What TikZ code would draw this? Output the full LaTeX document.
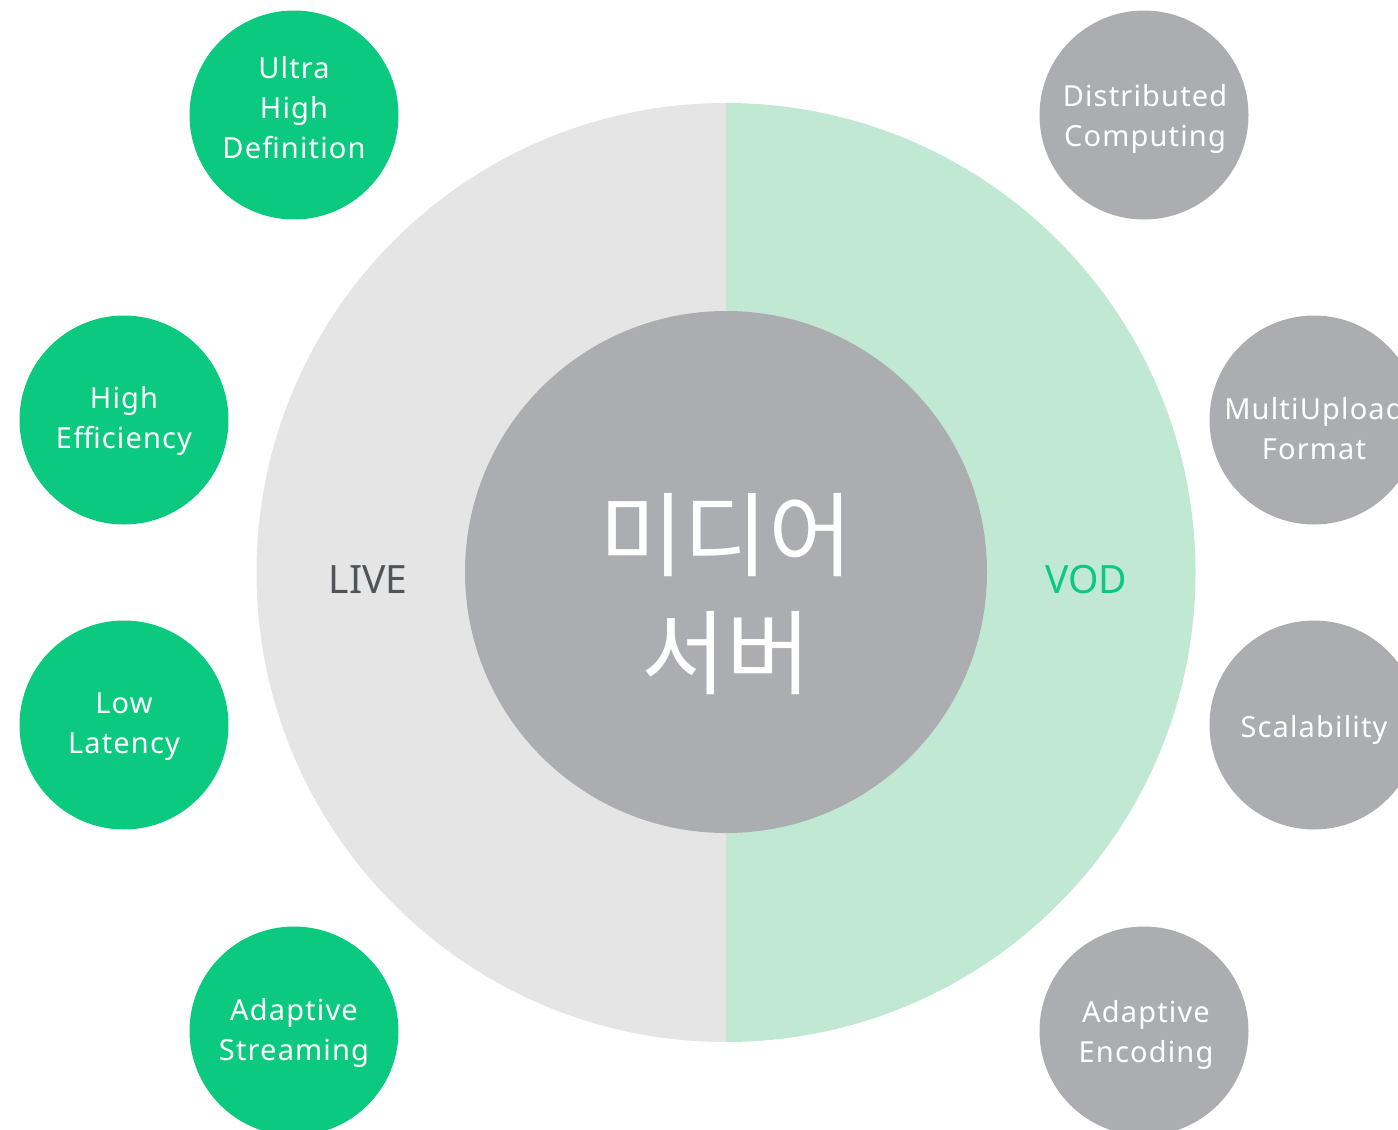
\documentclass[tikz,border=0pt]{standalone}
\usepackage{fontspec}
\setmainfont{Noto Sans}[LetterSpace=4]
\newfontfamily\plainfont{Noto Sans}
\newfontfamily\krfont{Noto Sans CJK KR}
\definecolor{grn}{HTML}{0BC97F}
\definecolor{lgrn}{HTML}{C0E8D3}
\definecolor{lgry}{HTML}{E5E5E5}
\definecolor{mgry}{HTML}{ABADB1}
\definecolor{dgry}{HTML}{505459}
\begin{document}
\begin{tikzpicture}[x=1pt,y=-1pt,
  bubble/.style={circle,minimum size=209pt,inner sep=0pt,fill=#1},
  txt/.style={text=white,align=center,font=\fontsize{29}{40}\selectfont},
  side/.style={font=\plainfont\fontsize{39}{44}\selectfont}]
\useasboundingbox (0,0) rectangle (1398,1130);
\clip (0,0) rectangle (1398,1130);
\coordinate (c) at (726,572);
\fill[lgry] (726,103) arc[start angle=-90,end angle=-270,radius=469.5] -- cycle;
\fill[lgrn] (726,103) arc[start angle=-90,end angle=90,radius=469.5] -- cycle;
\node[circle,fill=mgry,minimum size=522pt,inner sep=0pt] (core) at (c) {};
\node[text=white,align=center,font=\krfont\fontsize{92}{118}\selectfont] (title) at (726,594) {미디어\\서버};
\node[side,text=dgry] (live) at (368,580) {LIVE};
\node[side,text=grn] (vod) at (1086,580) {VOD};
\node[bubble=grn] (uhd) at (294,115) {};
\node[bubble=grn] (he) at (124,420) {};
\node[bubble=grn] (ll) at (124,725) {};
\node[bubble=grn] (as) at (294,1031) {};
\node[bubble=mgry] (dc) at (1144,115) {};
\node[bubble=mgry] (mu) at (1314,420) {};
\node[bubble=mgry] (sc) at (1314,725) {};
\node[bubble=mgry] (ae) at (1144,1031) {};
\node[txt] (uhdt) at (294,108) {Ultra\\High\\Definition};
\node[txt] (het) at (124,421) {High\\Efficiency};
\node[txt] (llt) at (124,727) {Low\\Latency};
\node[txt] (ast) at (294,1033) {Adaptive\\Streaming};
\node[txt] (dct) at (1145,119) {Distributed\\Computing};
\node[txt] (mut) at (1314,429) {MultiUpload\\Format};
\node[txt] (sct) at (1314,730) {Scalability};
\node[txt] (aet) at (1146,1035) {Adaptive\\Encoding};
\end{tikzpicture}
\end{document}
